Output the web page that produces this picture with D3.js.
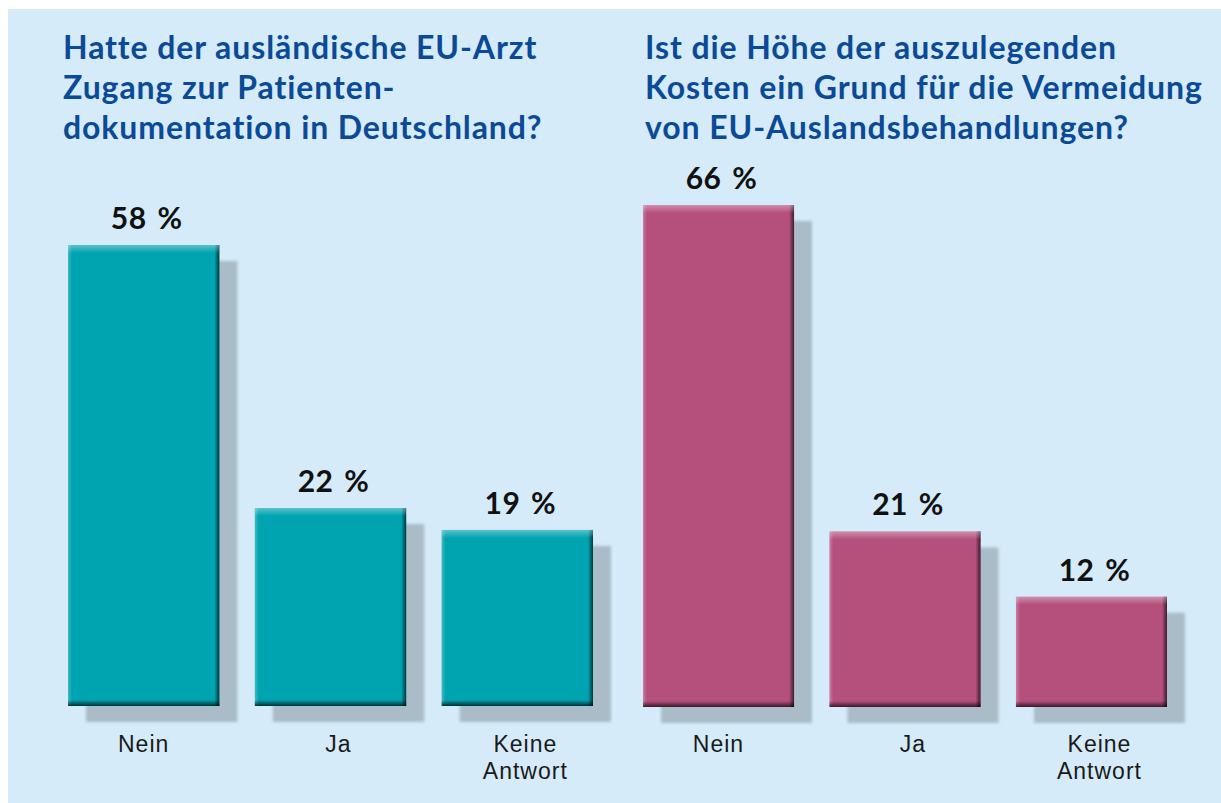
<!DOCTYPE html>
<html>
<head>
<meta charset="utf-8">
<script src="https://cdn.jsdelivr.net/npm/d3@7"></script>
<style>
  html, body { margin: 0; padding: 0; background: #ffffff; }
  svg { display: block; }
</style>
</head>
<body>
<svg id="chart" width="1221" height="803"></svg>
<script>
// ---- data ----
const categories = ["Nein", "Ja", "Keine Antwort"];
const leftValues = [58, 22, 19];
const rightValues = [66, 21, 12];
const leftTitle = ["Hatte der ausländische EU-Arzt", "Zugang zur Patienten-", "dokumentation in Deutschland?"];
const rightTitle = ["Ist die Höhe der auszulegenden", "Kosten ein Grund für die Vermeidung", "von EU-Auslandsbehandlungen?"];

const svg = d3.select("#chart");
const W = 1221, H = 803;

// background
svg.append("rect").attr("x", 8).attr("y", 9).attr("width", W - 8).attr("height", H - 9).attr("fill", "#d5ebf9");

const defs = svg.append("defs");
defs.append("filter").attr("id", "blur").attr("x", "-10%").attr("y", "-10%").attr("width", "120%").attr("height", "120%")
  .append("feGaussianBlur").attr("stdDeviation", 1.6);

function grad(id, x2, y2, stops) {
  const g = defs.append("linearGradient").attr("id", id).attr("x1", 0).attr("y1", 0).attr("x2", x2).attr("y2", y2);
  stops.forEach(s => g.append("stop").attr("offset", s[0]).attr("stop-color", s[1]).attr("stop-opacity", s[2]));
}
grad("topHi", 0, 1, [[0, "#ffffff", 0.35], [0.5, "#ffffff", 0.18], [1, "#ffffff", 0]]);
grad("botDk", 0, 1, [[0, "#000000", 0], [1, "#000000", 0.7]]);
grad("leftHi", 1, 0, [[0, "#ffffff", 0.25], [1, "#ffffff", 0]]);
grad("rightDk", 1, 0, [[0, "#000000", 0], [1, "#000000", 0.65]]);

const titleColor = "#0b4a97";

function panel(opts) {
  const g = svg.append("g");
  const x = d3.scaleBand().domain(categories).range(opts.xRange).paddingInner(0.19).paddingOuter(0);
  const y = d3.scaleLinear().domain(opts.yDomain).range([opts.base, opts.topY]);
  const bw = x.bandwidth();

  // title
  const t = g.append("text")
    .attr("x", opts.titleX).attr("y", 59)
    .attr("fill", titleColor)
    .style("font-family", "Lato, 'Open Sans', sans-serif")
    .style("font-weight", "700")
    .style("font-size", "32px")
    .style("letter-spacing", "0.9px");
  opts.title.forEach((line, i) => {
    t.append("tspan").attr("x", opts.titleX).attr("y", 59 + i * 40).text(line);
  });

  const data = categories.map((c, i) => ({ c, v: opts.values[i], i }));

  // shadows
  g.selectAll("rect.shadow").data(data).join("rect")
    .attr("class", "shadow")
    .attr("x", d => x(d.c) + 18)
    .attr("y", d => y(d.v) + 16)
    .attr("width", bw)
    .attr("height", d => y(opts.yDomain[0]) - y(d.v))
    .attr("fill", "#a9bcc8")
    .attr("filter", "url(#blur)");

  const bars = g.selectAll("g.bar").data(data).join("g").attr("class", "bar");
  bars.append("rect")
    .attr("x", d => x(d.c)).attr("y", d => y(d.v))
    .attr("width", bw).attr("height", d => y(opts.yDomain[0]) - y(d.v))
    .attr("fill", opts.color);
  // bevel edges
  bars.append("rect")
    .attr("x", d => x(d.c)).attr("y", d => y(d.v))
    .attr("width", 4).attr("height", d => y(opts.yDomain[0]) - y(d.v))
    .attr("fill", "url(#leftHi)");
  bars.append("rect")
    .attr("x", d => x(d.c) + bw - 5).attr("y", d => y(d.v))
    .attr("width", 5).attr("height", d => y(opts.yDomain[0]) - y(d.v))
    .attr("fill", "url(#rightDk)");
  bars.append("rect")
    .attr("x", d => x(d.c)).attr("y", d => y(d.v))
    .attr("width", bw).attr("height", 8)
    .attr("fill", "url(#topHi)");
  bars.append("rect")
    .attr("x", d => x(d.c)).attr("y", d => y(opts.yDomain[0]) - 6)
    .attr("width", bw).attr("height", 6)
    .attr("fill", "url(#botDk)");

  // value labels
  g.selectAll("text.val").data(data).join("text")
    .attr("class", "val")
    .attr("x", d => x(d.c) + bw / 2 + 3)
    .attr("y", d => y(d.v) - 16)
    .attr("text-anchor", "middle")
    .attr("fill", "#111111")
    .style("font-family", "Lato, 'Open Sans', sans-serif")
    .style("font-weight", "700")
    .style("font-size", "30px")
    .style("letter-spacing", "0.5px")
    .style("word-spacing", "3px")
    .text(d => d.v + " %");

  // category labels
  const cl = g.selectAll("text.cat").data(data).join("text")
    .attr("class", "cat")
    .attr("text-anchor", "middle")
    .attr("fill", "#1a1a1a")
    .style("font-family", "'Liberation Sans', Arial, sans-serif")
    .style("font-size", "23px")
    .style("letter-spacing", "1px");
  cl.each(function (d) {
    const cx = x(d.c) + bw / 2 + (d.i > 0 ? 8 : 0);
    const words = d.c.split(" ");
    words.forEach((w, k) => {
      d3.select(this).append("tspan").attr("x", cx).attr("y", 752 + k * 27).text(w);
    });
  });
}

panel({
  values: leftValues, title: leftTitle, titleX: 63,
  xRange: [68, 593], yDomain: [-5.1, 58], base: 706, topY: 245, color: "#00a3b0"
});
panel({
  values: rightValues, title: rightTitle, titleX: 645,
  xRange: [643, 1167], yDomain: [-3.2, 66], base: 707, topY: 205, color: "#b5507d"
});
</script>
</body>
</html>
